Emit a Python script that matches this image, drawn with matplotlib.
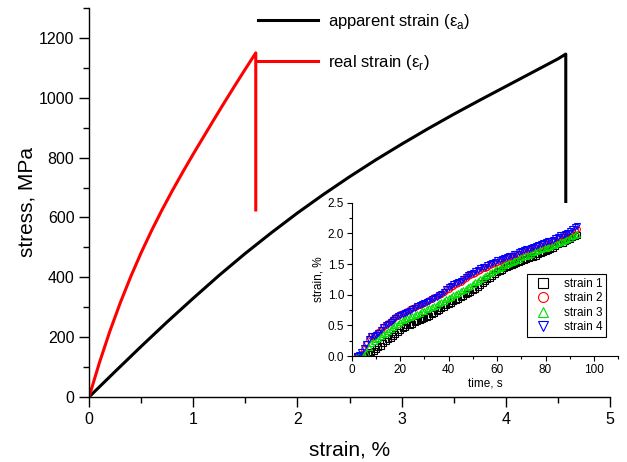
import numpy as np
import matplotlib.pyplot as plt
from matplotlib.ticker import MultipleLocator

plt.rcParams['font.family'] = ['Liberation Sans', 'DejaVu Sans']
plt.rcParams['mathtext.fontset'] = 'custom'
plt.rcParams['mathtext.rm'] = 'Liberation Sans'

# main curves: strain (%) vs stress (MPa), last point = drop after failure
apparent_strain = [0, 0.25, 0.5, 0.75, 1.0, 1.25, 1.5, 1.75, 2.0, 2.25, 2.5, 2.75, 3.0,
                   3.25, 3.5, 3.75, 4.0, 4.25, 4.5, 4.575, 4.575]
apparent_stress = [0, 85, 169, 251, 330, 407, 480, 549, 615, 677, 736, 792, 845,
                   896, 945, 992, 1038, 1084, 1130, 1146, 624]
real_strain = [0, 0.1, 0.2, 0.3, 0.4, 0.5, 0.6, 0.7, 0.8, 0.9, 1.0, 1.1, 1.2,
               1.3, 1.4, 1.5, 1.6, 1.6]
real_stress = [0, 115, 220, 315, 402, 482, 556, 625, 690, 752, 812, 870, 928,
               985, 1041, 1096, 1150, 625]

# inset: strain gauges vs time, 1 s sampling
time_s = list(range(2, 94))
strain1 = [0.00, 0.00, 0.00, 0.00, 0.02, 0.04, 0.06, 0.09, 0.12, 0.14,
           0.17, 0.21, 0.24, 0.27, 0.29, 0.33, 0.36, 0.39, 0.42, 0.45,
           0.48, 0.50, 0.51, 0.53, 0.55, 0.57, 0.59, 0.61, 0.62, 0.64,
           0.66, 0.69, 0.71, 0.73, 0.75, 0.78, 0.80, 0.83, 0.85, 0.87,
           0.89, 0.91, 0.93, 0.96, 0.98, 1.01, 1.03, 1.05, 1.07, 1.10,
           1.13, 1.16, 1.19, 1.22, 1.25, 1.28, 1.31, 1.34, 1.37, 1.39,
           1.41, 1.43, 1.45, 1.47, 1.48, 1.50, 1.51, 1.53, 1.55, 1.57,
           1.58, 1.60, 1.61, 1.62, 1.64, 1.66, 1.68, 1.70, 1.72, 1.73,
           1.74, 1.77, 1.80, 1.82, 1.84, 1.85, 1.87, 1.89, 1.91, 1.94,
           1.96, 1.97]
strain2 = [0.00, 0.00, 0.04, 0.12, 0.19, 0.27, 0.32, 0.33, 0.36, 0.39,
           0.43, 0.47, 0.50, 0.54, 0.57, 0.60, 0.63, 0.66, 0.68, 0.70,
           0.72, 0.74, 0.76, 0.78, 0.80, 0.82, 0.84, 0.85, 0.87, 0.89,
           0.91, 0.93, 0.96, 0.98, 1.00, 1.02, 1.04, 1.07, 1.10, 1.12,
           1.15, 1.17, 1.19, 1.21, 1.24, 1.27, 1.30, 1.32, 1.34, 1.36,
           1.39, 1.41, 1.43, 1.44, 1.46, 1.48, 1.50, 1.52, 1.53, 1.55,
           1.56, 1.58, 1.60, 1.61, 1.62, 1.64, 1.65, 1.67, 1.69, 1.71,
           1.72, 1.73, 1.74, 1.76, 1.77, 1.79, 1.80, 1.82, 1.83, 1.84,
           1.85, 1.87, 1.90, 1.92, 1.94, 1.95, 1.96, 1.98, 2.00, 2.03,
           2.06, 2.07]
strain3 = [0.00, 0.00, 0.00, 0.02, 0.05, 0.14, 0.22, 0.25, 0.28, 0.30,
           0.33, 0.36, 0.38, 0.41, 0.44, 0.47, 0.50, 0.53, 0.55, 0.58,
           0.60, 0.62, 0.64, 0.66, 0.67, 0.69, 0.71, 0.73, 0.74, 0.76,
           0.78, 0.80, 0.82, 0.84, 0.86, 0.88, 0.90, 0.93, 0.95, 0.97,
           0.99, 1.01, 1.03, 1.06, 1.08, 1.10, 1.12, 1.15, 1.17, 1.20,
           1.22, 1.25, 1.28, 1.30, 1.32, 1.35, 1.37, 1.40, 1.42, 1.44,
           1.46, 1.48, 1.50, 1.52, 1.54, 1.55, 1.57, 1.59, 1.61, 1.63,
           1.64, 1.65, 1.67, 1.69, 1.71, 1.73, 1.74, 1.76, 1.77, 1.78,
           1.79, 1.81, 1.83, 1.85, 1.86, 1.88, 1.89, 1.91, 1.93, 1.96,
           1.98, 1.99]
strain4 = [0.00, 0.02, 0.06, 0.13, 0.20, 0.28, 0.33, 0.33, 0.35, 0.38,
           0.42, 0.47, 0.50, 0.53, 0.56, 0.59, 0.62, 0.65, 0.67, 0.69,
           0.71, 0.72, 0.74, 0.77, 0.79, 0.81, 0.83, 0.85, 0.87, 0.88,
           0.90, 0.93, 0.95, 0.97, 1.00, 1.02, 1.05, 1.09, 1.12, 1.14,
           1.17, 1.19, 1.21, 1.23, 1.26, 1.29, 1.32, 1.34, 1.36, 1.38,
           1.41, 1.43, 1.45, 1.46, 1.48, 1.50, 1.52, 1.54, 1.56, 1.57,
           1.58, 1.60, 1.62, 1.63, 1.64, 1.66, 1.67, 1.69, 1.71, 1.73,
           1.74, 1.75, 1.76, 1.78, 1.79, 1.81, 1.83, 1.85, 1.86, 1.87,
           1.88, 1.90, 1.93, 1.95, 1.97, 1.98, 1.99, 2.01, 2.04, 2.07,
           2.11, 2.12]

fig = plt.figure(figsize=(6.27, 4.62), dpi=100)
ax = fig.add_axes([0.142, 0.1407, 0.831, 0.842])

ax.plot(apparent_strain, apparent_stress, color='black', lw=2.2, label=r'apparent strain (ε$_{\mathrm{a}}$)')
ax.plot(real_strain, real_stress, color='red', lw=2.2, label=r'real strain (ε$_{\mathrm{r}}$)')

ax.set_xlim(0, 5)
ax.set_ylim(0, 1300)
ax.xaxis.set_major_locator(MultipleLocator(1))
ax.xaxis.set_minor_locator(MultipleLocator(0.5))
ax.yaxis.set_major_locator(MultipleLocator(200))
ax.yaxis.set_minor_locator(MultipleLocator(100))
for s in ['top', 'right']:
    ax.spines[s].set_visible(False)
for s in ['left', 'bottom']:
    ax.spines[s].set_linewidth(1.0)
ax.tick_params(which='major', direction='out', length=7, width=1.0, labelsize=11.5)
ax.tick_params(which='minor', direction='out', length=4, width=1.0)
ax.set_xlabel('strain, %', fontsize=15, labelpad=10)
ax.set_ylabel('stress, MPa', fontsize=15, labelpad=2)

ax.legend(loc='upper left', bbox_to_anchor=(0.324, 0.99), frameon=False, fontsize=12,
          handlelength=3.6, handletextpad=0.6, labelspacing=1.3, borderpad=0, borderaxespad=0)

# inset
ins = fig.add_axes([0.561, 0.2294, 0.425, 0.3316])
ins.plot(time_s, strain1, ls='none', marker='s', ms=4.2, mfc='none', mec='black', mew=0.8, label='strain 1')
ins.plot(time_s, strain2, ls='none', marker='o', ms=4.2, mfc='none', mec='red', mew=0.8, label='strain 2')
ins.plot(time_s, strain3, ls='none', marker='^', ms=4.2, mfc='none', mec='#00dd00', mew=0.8, label='strain 3')
ins.plot(time_s, strain4, ls='none', marker='v', ms=4.2, mfc='none', mec='blue', mew=0.8, label='strain 4')
ins.set_xlim(0, 110)
ins.set_ylim(0, 2.5)
ins.xaxis.set_major_locator(MultipleLocator(20))
ins.xaxis.set_minor_locator(MultipleLocator(10))
ins.yaxis.set_major_locator(MultipleLocator(0.5))
ins.yaxis.set_minor_locator(MultipleLocator(0.25))
ins.yaxis.set_major_formatter(plt.FormatStrFormatter('%.1f'))
for s in ['top', 'right']:
    ins.spines[s].set_visible(False)
ins.tick_params(which='major', direction='out', length=3.5, width=0.8, labelsize=8.5, pad=2)
ins.tick_params(which='minor', direction='out', length=2, width=0.8)
ins.set_xlabel('time, s', fontsize=8.5, labelpad=1)
ins.set_ylabel('strain, %', fontsize=8.5, labelpad=2)
leg = ins.legend(loc='lower right', bbox_to_anchor=(0.955, 0.124), fontsize=8.5, fancybox=False,
                 edgecolor='black', framealpha=1, markerscale=1.7, handletextpad=0.8,
                 labelspacing=0.22, borderpad=0.3, borderaxespad=0)
leg.get_frame().set_linewidth(0.8)

fig.savefig('out.png', dpi=100)
